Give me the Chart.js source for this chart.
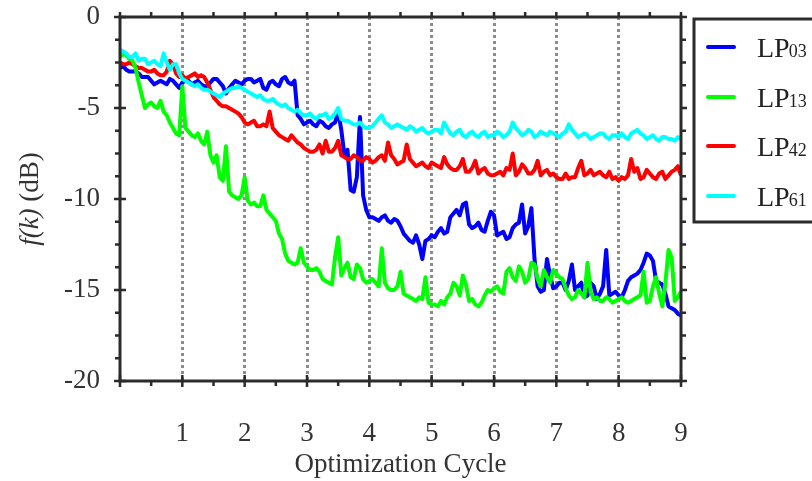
<!DOCTYPE html>
<html><head><meta charset="utf-8">
<script src="https://cdn.jsdelivr.net/npm/chart.js@4"></script>
<style>html,body{margin:0;padding:0;background:#fff;}canvas{display:block;}</style>
</head><body>
<canvas id="c" width="812" height="481"></canvas>
<script>
// x positions: optimization cycle, sampled every 0.05
const cycles = Array.from({length: 181}, (_, i) => +(i * 0.05).toFixed(2));
const seriesNames = ['LP03', 'LP13', 'LP42', 'LP61'];
const legendMain = ['LP', 'LP', 'LP', 'LP'];
const legendSub = ['03', '13', '42', '61'];
const xTickLabels = ['', '1', '2', '3', '4', '5', '6', '7', '8', '9'];
const yTickValues = [0, -5, -10, -15, -20];

const lp03 = [
 -2.8,-2.7,-2.9,-3.0,-3.0,-3.0,-3.1,-3.3,-3.3,-3.3,-3.5,-3.7,-3.6,-3.5,-3.6,-3.7,-3.4,-3.5,-3.7,-3.9,
 -3.6,-3.5,-3.5,-3.7,-3.6,-3.5,-3.7,-3.8,-3.8,-3.6,-3.4,-3.4,-3.6,-3.8,-4.2,-3.9,-3.7,-3.5,-3.6,-3.7,
 -3.5,-3.4,-3.4,-3.6,-3.5,-3.4,-3.9,-4.0,-3.6,-3.5,-3.7,-3.8,-3.4,-3.3,-3.6,-3.7,-3.5,-5.4,-5.6,-5.9,
 -5.8,-5.7,-5.9,-6.0,-5.7,-5.8,-6.0,-6.1,-5.9,-5.8,-5.2,-6.2,-7.6,-7.3,-9.5,-9.6,-8.8,-5.5,-9.8,-10.6,
 -11.0,-11.0,-11.1,-11.2,-11.0,-10.9,-11.2,-11.3,-11.1,-11.2,-11.5,-11.9,-12.1,-12.3,-12.4,-12.0,-12.5,-13.3,-12.3,-12.2,
 -12.0,-12.1,-11.8,-11.6,-11.9,-11.8,-11.0,-10.8,-10.6,-10.9,-10.3,-10.2,-11.4,-11.6,-11.5,-11.3,-11.7,-11.8,-11.2,-10.7,
 -10.9,-12.0,-11.9,-11.8,-12.2,-12.1,-11.6,-11.4,-11.3,-10.3,-11.9,-11.5,-10.5,-13.3,-14.8,-15.1,-15.0,-13.3,-14.2,-14.9,
 -14.8,-14.6,-14.6,-15.0,-14.5,-13.6,-15.0,-14.8,-14.6,-15.4,-15.3,-14.6,-14.8,-15.5,-15.2,-14.8,-12.8,-15.3,-15.2,-15.1,
 -15.3,-15.4,-15.0,-14.5,-14.3,-14.2,-14.1,-13.9,-13.5,-13.0,-13.1,-13.4,-14.5,-14.6,-14.7,-15.2,-15.9,-16.0,-16.1,-16.3,
 -16.4];
const lp13 = [
 -2.2,-2.0,-2.1,-2.3,-2.4,-2.8,-3.6,-4.3,-5.0,-4.8,-4.7,-4.9,-5.0,-4.6,-5.2,-5.4,-5.8,-6.1,-6.4,-6.5,
 -3.8,-6.1,-6.3,-6.5,-6.6,-6.4,-6.8,-7.0,-6.3,-7.6,-8.0,-7.6,-8.8,-9.0,-7.1,-9.6,-9.8,-9.9,-10.0,-9.8,
 -8.8,-10.1,-10.3,-10.2,-10.4,-10.4,-9.8,-10.6,-10.8,-11.0,-11.2,-11.9,-12.2,-13.0,-13.4,-13.5,-13.6,-13.5,-12.7,-13.5,
 -13.7,-13.9,-13.9,-13.8,-14.0,-14.4,-14.5,-14.6,-14.7,-13.2,-12.1,-14.2,-13.8,-13.5,-14.3,-14.4,-13.6,-13.8,-14.4,-14.6,
 -14.5,-14.4,-14.6,-14.8,-12.7,-14.6,-14.9,-15.0,-15.0,-14.8,-14.0,-15.2,-15.3,-15.4,-15.5,-15.6,-15.4,-15.5,-14.3,-15.7,
 -15.8,-15.8,-15.9,-15.6,-15.8,-15.4,-15.2,-14.6,-14.8,-15.3,-14.2,-14.7,-15.6,-15.5,-15.8,-15.9,-15.7,-15.3,-15.0,-15.1,
 -14.9,-14.8,-15.1,-15.2,-14.0,-13.8,-14.3,-14.5,-13.7,-14.0,-14.6,-14.4,-13.5,-13.6,-14.4,-14.8,-13.9,-14.3,-14.6,-13.9,
 -14.1,-14.3,-14.4,-14.9,-15.3,-15.5,-15.4,-15.0,-15.2,-15.4,-13.5,-15.1,-15.5,-15.4,-15.6,-15.6,-15.4,-15.5,-15.7,-15.6,
 -15.5,-15.4,-15.6,-15.7,-15.6,-15.5,-15.4,-15.3,-14.0,-15.7,-15.6,-14.8,-14.3,-15.2,-15.9,-14.6,-12.8,-13.2,-15.6,-15.4,
 -15.1];
const lp42 = [
 -2.5,-2.6,-2.6,-2.5,-2.6,-2.7,-2.8,-2.8,-2.9,-3.0,-3.0,-2.9,-3.1,-3.2,-3.2,-3.0,-2.4,-2.6,-3.1,-3.3,
 -3.2,-3.4,-3.3,-3.2,-3.1,-3.3,-3.2,-3.3,-3.6,-4.0,-4.4,-4.6,-4.8,-4.9,-4.9,-5.0,-5.1,-5.2,-5.3,-5.5,
 -5.8,-5.9,-5.8,-5.7,-6.0,-6.0,-5.9,-6.0,-5.2,-6.1,-6.3,-6.5,-6.6,-6.7,-6.8,-6.5,-6.7,-6.9,-7.0,-7.2,
 -7.3,-7.4,-7.4,-7.3,-7.0,-7.5,-6.8,-7.4,-7.4,-7.2,-6.8,-7.6,-7.7,-7.8,-7.8,-7.6,-7.7,-7.9,-7.9,-7.7,
 -7.8,-8.0,-7.9,-7.7,-7.6,-7.9,-6.9,-7.6,-7.8,-8.1,-8.0,-7.9,-7.0,-7.8,-8.0,-8.2,-8.1,-8.0,-8.2,-8.3,
 -8.0,-8.1,-8.2,-8.3,-7.7,-8.1,-8.3,-8.4,-8.4,-8.2,-7.8,-8.5,-8.5,-8.3,-7.9,-8.6,-8.4,-8.3,-8.6,-8.7,
 -8.7,-8.6,-8.5,-8.7,-8.3,-8.4,-7.5,-8.7,-8.5,-8.1,-8.3,-8.6,-8.6,-8.4,-7.9,-8.7,-8.5,-8.4,-8.7,-8.6,
 -8.8,-8.9,-8.9,-8.6,-8.9,-8.8,-8.8,-8.3,-7.9,-8.7,-8.6,-8.4,-8.7,-8.6,-8.5,-8.7,-8.8,-8.5,-8.9,-8.8,
 -9.0,-8.8,-8.9,-8.7,-7.8,-8.5,-8.3,-8.9,-8.8,-8.4,-8.6,-8.8,-8.9,-8.6,-8.5,-8.9,-8.7,-8.5,-8.4,-8.2,
 -8.7];
const lp61 = [
 -1.8,-1.9,-2.0,-2.2,-2.2,-2.0,-2.4,-2.3,-2.3,-2.6,-2.5,-2.4,-2.6,-2.7,-2.0,-2.5,-2.9,-2.6,-2.6,-3.1,
 -3.4,-3.5,-3.6,-3.7,-3.8,-3.7,-3.9,-4.0,-4.0,-4.1,-4.2,-4.3,-4.4,-4.2,-4.1,-4.0,-3.9,-3.9,-3.8,-3.9,
 -4.0,-4.1,-4.2,-4.3,-4.4,-4.3,-4.5,-4.6,-4.6,-4.5,-4.7,-4.8,-4.9,-4.8,-5.0,-5.1,-5.2,-5.1,-5.3,-5.4,
 -5.4,-5.3,-5.5,-5.6,-5.4,-5.4,-5.3,-5.6,-5.5,-5.3,-5.0,-5.6,-5.7,-5.7,-5.8,-5.9,-5.9,-5.8,-6.0,-6.1,
 -6.1,-6.0,-5.8,-5.6,-5.4,-5.8,-5.9,-6.1,-6.0,-5.9,-6.0,-6.1,-6.2,-6.0,-6.1,-6.3,-6.2,-6.1,-6.3,-6.4,
 -6.3,-6.2,-6.2,-6.4,-5.8,-6.1,-6.4,-6.5,-6.3,-6.2,-6.5,-6.6,-6.4,-6.3,-6.5,-6.6,-6.4,-6.3,-6.6,-6.5,
 -6.5,-6.3,-6.4,-6.6,-6.5,-6.3,-5.8,-6.1,-6.3,-6.5,-6.4,-6.2,-6.3,-6.6,-6.5,-6.3,-6.4,-6.5,-6.3,-6.4,
 -6.5,-6.6,-6.4,-6.3,-5.9,-6.2,-6.4,-6.6,-6.5,-6.4,-6.5,-6.7,-6.6,-6.5,-6.4,-6.4,-6.6,-6.7,-6.5,-6.5,
 -6.6,-6.4,-6.6,-6.7,-6.4,-6.3,-6.2,-6.4,-6.5,-6.7,-6.6,-6.5,-6.7,-6.8,-6.6,-6.6,-6.7,-6.7,-6.8,-6.6,
 -6.7];

const allSeries = [lp03, lp13, lp42, lp61];
const colors = ['#0000ff', '#00ff00', '#ff0000', '#00ffff'];
const drawOrder = [3, 1, 2, 0];
const FONT = "'Liberation Serif', 'Times New Roman', serif";
const TXT = '#333333';

const framePlugin = {
  id: 'frame',
  afterDatasetsDraw(chart) {
    const {ctx, chartArea: a, scales: {x, y}} = chart;
    ctx.save();
    ctx.strokeStyle = '#2b2b2b';
    ctx.lineWidth = 3;
    ctx.strokeRect(a.left, a.top, a.right - a.left, a.bottom - a.top);
    ctx.lineWidth = 2.5;
    ctx.beginPath();
    for (let k = 0; k <= 18; k++) {
      const px = x.getPixelForValue(k * 0.5);
      if (k % 2 === 0) { ctx.moveTo(px, a.bottom - 6); ctx.lineTo(px, a.bottom + 6); }
      else { ctx.moveTo(px, a.bottom); ctx.lineTo(px, a.bottom + 5); }
      ctx.moveTo(px, a.top); ctx.lineTo(px, a.top - 5);
    }
    for (let k = 0; k <= 16; k++) {
      const py = y.getPixelForValue(-k * 1.25);
      if (k % 4 === 0) { ctx.moveTo(a.left - 6, py); ctx.lineTo(a.left + 6, py); ctx.moveTo(a.right, py); ctx.lineTo(a.right + 6, py); }
      else { ctx.moveTo(a.left - 5, py); ctx.lineTo(a.left, py); ctx.moveTo(a.right, py); ctx.lineTo(a.right + 5, py); }
    }
    ctx.stroke();
    ctx.restore();
  },
  afterDraw(chart) {
    const {ctx, chartArea: a} = chart;
    ctx.save();
    const cy = (a.top + a.bottom) / 2;
    ctx.translate(31, cy);
    ctx.rotate(-Math.PI / 2);
    ctx.fillStyle = TXT;
    ctx.textBaseline = 'middle';
    const fi = "italic 27px " + FONT, fn = "27px " + FONT;
    ctx.font = fi; const w1 = ctx.measureText('f(k)').width;
    ctx.font = fn; const w2 = ctx.measureText(' (dB)').width;
    const sx = -(w1 + w2) / 2;
    ctx.font = fi; ctx.textAlign = 'left'; ctx.fillText('f(k)', sx, 0);
    ctx.font = fn; ctx.fillText(' (dB)', sx + w1, 0);
    ctx.restore();

    ctx.save();
    ctx.fillStyle = '#ffffff';
    ctx.fillRect(694, 19, 130, 203);
    ctx.strokeStyle = '#2b2b2b';
    ctx.lineWidth = 3;
    ctx.strokeRect(694, 19, 130, 203);
    const rowsY = [47, 97, 146, 196];
    for (let i = 0; i < 4; i++) {
      ctx.strokeStyle = colors[i];
      ctx.lineWidth = 4;
      ctx.lineCap = 'round';
      ctx.beginPath(); ctx.moveTo(708, rowsY[i]); ctx.lineTo(734, rowsY[i]); ctx.stroke();
      ctx.fillStyle = '#222';
      ctx.textBaseline = 'alphabetic';
      ctx.textAlign = 'left';
      ctx.font = "28px " + FONT;
      const base = rowsY[i] + 10;
      ctx.fillText(legendMain[i], 757, base);
      const wm = ctx.measureText(legendMain[i]).width;
      ctx.font = "18px " + FONT;
      ctx.fillText(legendSub[i], 757 + wm - 1, base);
    }
    ctx.restore();
  }
};

new Chart(document.getElementById('c'), {
  type: 'line',
  data: {
    datasets: seriesNames.map((n, i) => ({
      label: n,
      data: cycles.map((c, j) => ({x: c, y: allSeries[i][j]})),
      borderColor: colors[i],
      backgroundColor: colors[i],
      borderWidth: 4,
      borderJoinStyle: 'round',
      pointRadius: 0,
      tension: 0,
      fill: false,
      order: drawOrder[i]
    }))
  },
  options: {
    responsive: false,
    animation: false,
    devicePixelRatio: 1,
    layout: {padding: {left: 0, right: 131, top: 17, bottom: 0}},
    plugins: {legend: {display: false}, tooltip: {enabled: false}},
    scales: {
      x: {
        type: 'linear', min: 0, max: 9,
        border: {display: false, dash: [3, 3]},
        grid: {
          drawTicks: false,
          lineWidth: 3,
          color: c => (c.tick && c.tick.value > 0 && c.tick.value < 9) ? '#8c8c8c' : 'rgba(0,0,0,0)'
        },
        ticks: {
          stepSize: 1, autoSkip: false, maxRotation: 0, padding: 37,
          color: TXT, font: {family: FONT, size: 27},
          callback: v => xTickLabels[v] !== undefined ? xTickLabels[v] : ''
        },
        title: {display: true, text: 'Optimization Cycle', color: TXT, font: {family: FONT, size: 27}, padding: {top: 0, bottom: 0}},
        afterFit: s => { s.height = 100; s.paddingLeft = 0; s.paddingRight = 0; }
      },
      y: {
        type: 'linear', min: -20, max: 0,
        border: {display: false},
        grid: {display: false, drawTicks: false},
        afterBuildTicks: s => { s.ticks = yTickValues.map(v => ({value: v})); },
        ticks: {padding: 20, color: TXT, font: {family: FONT, size: 27}},
        afterFit: s => { s.width = 120; s.paddingTop = 0; s.paddingBottom = 0; }
      }
    }
  },
  plugins: [framePlugin]
});
</script>
</body></html>
